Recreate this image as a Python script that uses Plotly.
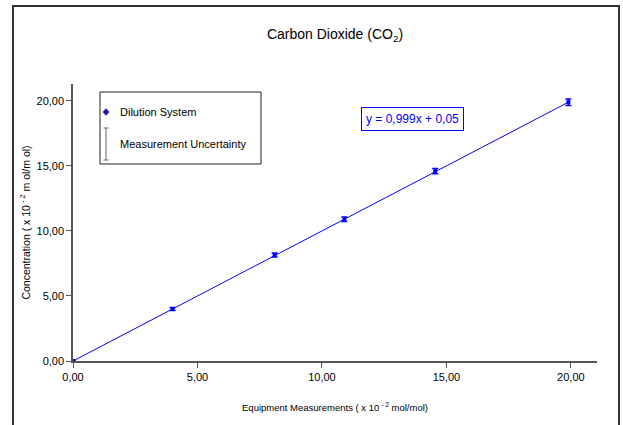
import plotly.graph_objects as go

# Data
equipment = [0.0, 4.0, 8.1, 10.9, 14.55, 19.9]
concentration = [0.0, 4.0, 8.15, 10.9, 14.6, 19.9]
uncertainty = [0.0, 0.12, 0.15, 0.18, 0.2, 0.25]
tick_vals = [0, 5, 10, 15, 20]
equation = "y = 0,999x + 0,05"

FONT = "Liberation Sans, Arial"
BLUE = "#0000FF"

fig = go.Figure()
fig.add_trace(go.Scatter(
    x=equipment, y=concentration, mode="lines+markers",
    line=dict(color=BLUE, width=1),
    marker=dict(color=BLUE, size=4, symbol="square"),
    error_y=dict(type="data", array=uncertainty, color=BLUE, thickness=1.5, width=3),
    showlegend=False, hoverinfo="skip",
))

W, H = 623, 425
L, R, T, B = 73, 26, 84, 64
pw, ph = W - L - R, H - T - B

def px(x):
    return (x - L) / pw

def py(y):
    return (H - B - y) / ph

shapes = [
    # outer frame
    dict(type="rect", xref="paper", yref="paper", x0=px(13), x1=px(619), y0=py(440), y1=py(6),
         line=dict(color="#333333", width=2), fillcolor="rgba(0,0,0,0)", layer="below"),
    # legend box
    dict(type="rect", xref="paper", yref="paper", x0=px(100), x1=px(261), y0=py(164), y1=py(92),
         line=dict(color="#222222", width=1), fillcolor="white"),
    # legend diamond
    dict(type="path", xref="paper", yref="paper",
         path=f"M {px(106)} {py(108.5)} L {px(109)} {py(112)} L {px(106)} {py(115.5)} L {px(103)} {py(112)} Z",
         line=dict(color="#1a1aa0", width=0.5), fillcolor="#1a1aa0"),
    # legend I-beam
    dict(type="line", xref="paper", yref="paper", x0=px(106), x1=px(106), y0=py(160), y1=py(128),
         line=dict(color="#666666", width=1)),
    dict(type="line", xref="paper", yref="paper", x0=px(103.5), x1=px(108.5), y0=py(128), y1=py(128),
         line=dict(color="#666666", width=1)),
    dict(type="line", xref="paper", yref="paper", x0=px(103.5), x1=px(108.5), y0=py(160), y1=py(160),
         line=dict(color="#666666", width=1)),
]

annotations = [
    dict(text="Dilution System", xref="paper", yref="paper", x=px(118), y=py(112),
         xanchor="left", yanchor="middle", showarrow=False, font=dict(family=FONT, size=11, color="black")),
    dict(text="Measurement Uncertainty", xref="paper", yref="paper", x=px(118), y=py(144),
         xanchor="left", yanchor="middle", showarrow=False, font=dict(family=FONT, size=11, color="black")),
    dict(text=equation, xref="paper", yref="paper", x=px(412.5), y=py(119),
         xanchor="center", yanchor="middle", showarrow=False,
         font=dict(family=FONT, size=12, color=BLUE),
         bordercolor=BLUE, borderwidth=1, borderpad=4, bgcolor="white"),
]

fig.update_layout(
    width=W, height=H,
    margin=dict(l=L, r=R, t=T, b=B),
    paper_bgcolor="white", plot_bgcolor="white",
    separators=",.",
    font=dict(family=FONT, size=11, color="black"),
    title=dict(text="Carbon Dioxide (CO<sub>2</sub>)", x=0.5, xref="paper", xanchor="center",
               y=1 - 34 / H, yanchor="middle", font=dict(family=FONT, size=14, color="black")),
    xaxis=dict(range=[0, 21.05], tickvals=tick_vals, tickformat=".2f", showgrid=False, zeroline=False,
               showline=True, linecolor="#555555", linewidth=1.5, ticks="outside", ticklen=5,
               tickcolor="#555555", tickfont=dict(family=FONT, size=11),
               title=dict(text="Equipment Measurements ( x 10<sup> - 2</sup> mol/mol)", standoff=22,
                          font=dict(family=FONT, size=9.5))),
    yaxis=dict(range=[0, 21.3], tickvals=tick_vals, tickformat=".2f", showgrid=False, zeroline=False,
               showline=True, linecolor="#555555", linewidth=1.5, ticks="outside", ticklen=5,
               tickcolor="#555555", tickfont=dict(family=FONT, size=11),
               title=dict(text="Concentration ( x 10<sup> - 2</sup> m ol/m ol)", standoff=4,
                          font=dict(family=FONT, size=10.5))),
    shapes=shapes, annotations=annotations,
)

fig.write_html("out.html")
